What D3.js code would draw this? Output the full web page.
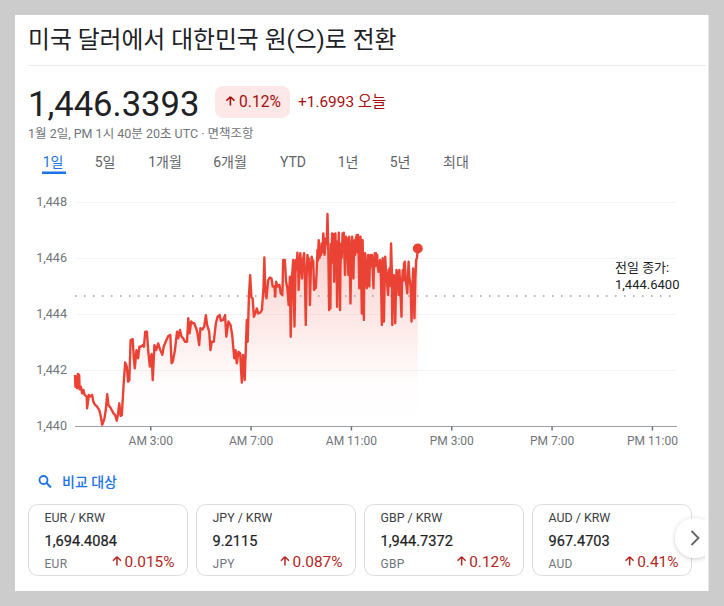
<!DOCTYPE html>
<html>
<head>
<meta charset="utf-8">
<script src="https://cdnjs.cloudflare.com/ajax/libs/d3/7.8.5/d3.min.js"></script>
<style>
  body { margin: 0; background: #cccccc; }
  svg { display: block; }
  text { font-family: Roboto, "Noto Sans CJK KR", sans-serif; }
</style>
</head>
<body>
<svg id="chart" width="724" height="606"></svg>
<script>
// minutes since midnight UTC
var minutes = [0,1,3,5,7,10,11,14,17,20,23,28,29,33,36,41,44,48,52,58,61,65,68,71,74,77,80,84,88,92,96,100,103,106,109,112,116,120,124,127,130,133,138,141,143,147,151,154,157,162,165,168,172,175,179,183,186,190,194,199,
  204,209,212,217,223,228,231,234,239,244,247,251,255,259,263,268,271,274,278,281,285,290,293,297,300,305,309,313,316,321,324,327,332,337,341,346,349,354,359,362,367,372,376,381,384,387,391,395,399,402,406,409,411,413,416,419,422,425,428,431,435,438,443,447,451,453,455,458,462,466,470,473,477,479,481,485,489,492,496,498,502,505,508,511,514,516,519,522,525,
  528,530,532,534,535,537,539,541,543,545,548,550,552,554,556,558,559,561,562,564,566,568,570,572,574,576,578,580,581,583,585,586,588,590,592,594,596,597,599,600,602,604,
  606,608,609,611,612,613,615,616,618,620,621,623,624,625,627,628,629,631,632,634,635,637,638,640,641,643,644,646,648,649,651,652,654,656,657,659,661,663,664,666,667,669,670,672,674,675,677,678,680,681,683,684,686,687,688,689,691,692,694,695,698,699,701,702,704,705,707,709,710,712,714,715,717,718,720,721,723,724,726,728,730,732,734,735,736,738,739,741,742,744,745,747,749,750,752,754,756,758,759,761,763,765,766,768,769,771,772,774,775,776,778,781,782,784,786,787,789,791,793,795,796,798,800,801,803,805,807,809,810,812,814,816,818,820];
var rates = [1441.82,1441.40,1441.76,1441.35,1441.86,1441.82,1441.31,1441.40,1441.17,1441.29,1441.11,1441.05,1440.63,1441.11,1441.05,1441.11,1440.87,1440.75,1440.71,1440.57,1440.39,1440.04,1440.15,1440.31,1440.63,1441.14,1440.75,1440.67,1440.57,1440.45,1440.39,1440.19,1440.45,1440.81,1440.36,1440.39,1441.40,1442.27,1442.12,1441.58,1441.64,1443.07,1443.10,1442.36,1442.06,1442.71,1442.42,1442.83,1442.83,1442.89,1442.83,1443.37,1443.37,1442.71,1442.12,1442.57,1441.64,1442.89,1442.71,1442.95,
  1442.71,1442.54,1442.83,1443.01,1443.21,1443.25,1442.24,1442.30,1442.71,1443.37,1443.13,1443.43,1443.19,1443.13,1443.01,1443.01,1443.85,1443.31,1443.73,1443.67,1443.67,1443.49,1443.31,1442.89,1443.49,1443.45,1443.55,1443.96,1443.61,1443.37,1442.71,1443.01,1443.01,1443.67,1443.90,1443.96,1443.76,1443.79,1443.96,1443.19,1443.73,1443.61,1443.25,1442.42,1442.71,1442.24,1442.65,1442.60,1441.55,1442.54,1441.64,1442.95,1443.79,1443.01,1444.62,1445.39,1444.60,1444.56,1443.90,1444.02,1444.20,1444.02,1444.05,1444.14,1444.98,1446.02,1444.86,1444.56,1445.21,1445.30,1445.27,1444.98,1444.98,1444.62,1445.15,1444.98,1445.04,1444.74,1444.68,1445.93,1445.93,1445.15,1444.92,1444.32,1445.33,1443.19,1445.33,1445.93,1443.55,
  1445.93,1445.60,1446.19,1445.60,1444.86,1445.70,1446.17,1445.70,1445.27,1445.90,1446.17,1445.30,1443.61,1445.30,1446.11,1445.80,1445.99,1445.30,1444.32,1445.50,1446.05,1445.90,1445.90,1444.86,1445.00,1444.92,1445.50,1446.29,1445.90,1446.64,1446.00,1446.29,1446.10,1446.52,1446.20,1446.88,1446.30,1446.11,1446.50,1446.70,1446.50,1447.57,
  1446.20,1444.14,1445.40,1444.20,1446.50,1445.80,1446.88,1445.90,1446.85,1445.15,1446.40,1446.88,1445.80,1446.60,1444.26,1446.00,1445.60,1446.90,1445.90,1444.14,1445.70,1446.52,1446.00,1446.88,1446.20,1446.90,1446.30,1445.39,1446.76,1446.10,1446.70,1446.20,1445.39,1446.76,1446.00,1444.38,1446.30,1446.76,1446.00,1445.27,1446.00,1446.64,1446.10,1446.70,1446.82,1446.20,1446.82,1446.50,1444.92,1446.20,1446.76,1446.00,1444.02,1446.30,1446.64,1445.90,1443.79,1445.60,1446.17,1445.70,1444.92,1445.60,1446.11,1445.60,1444.98,1445.70,1446.11,1445.70,1446.11,1445.60,1444.92,1445.80,1446.17,1445.70,1446.17,1445.80,1446.11,1445.70,1445.51,1445.80,1445.93,1445.20,1443.61,1445.20,1445.99,1445.20,1443.73,1445.40,1446.05,1445.50,1445.57,1445.00,1444.68,1445.20,1445.63,1445.00,1446.52,1445.50,1443.61,1444.90,1445.39,1444.90,1443.67,1445.00,1445.57,1445.00,1445.50,1444.68,1445.20,1445.57,1445.00,1443.90,1445.00,1445.57,1445.20,1445.80,1445.87,1445.20,1445.00,1444.74,1445.20,1445.87,1445.30,1445.21,1444.90,1443.73,1444.90,1445.63,1444.90,1443.85,1445.20,1445.93,1446.00,1446.34];
var previousClose = 1444.64;
var yTicks = [1440, 1442, 1444, 1446, 1448];
var xTicks = [180, 420, 660, 900, 1140, 1380];
var xTickLabels = ['AM 3:00', 'AM 7:00', 'AM 11:00', 'PM 3:00', 'PM 7:00', 'PM 11:00'];
var tabs = ['1일', '5일', '1개월', '6개월', 'YTD', '1년', '5년', '최대'];
var tabCenters = [53, 105, 165, 230, 293, 348, 400, 456];
var cardPairs = ['EUR / KRW', 'JPY / KRW', 'GBP / KRW', 'AUD / KRW'];
var cardValues = ['1,694.4084', '9.2115', '1,944.7372', '967.4703'];
var cardCodes = ['EUR', 'JPY', 'GBP', 'AUD'];
var cardChanges = ['0.015%', '0.087%', '0.12%', '0.41%'];

(function () {

var RED = '#ea4335', DARKRED = '#a50e0e', GREY = '#70757a';
var ARROW = 'M-0.6 -5.2 L-0.6 3.6 M-0.6 -5.2 L-4.6 -1.2 M-0.6 -5.2 L3.4 -1.2';
var points = minutes.map(function (m, i) { return {m: m, v: rates[i]}; });

var svg = d3.select('#chart');

var defs = svg.append('defs');
var grad = defs.append('linearGradient').attr('id', 'fade')
  .attr('x1', 0).attr('x2', 0).attr('y1', 0).attr('y2', 1);
grad.append('stop').attr('offset', '0%').attr('stop-color', RED).attr('stop-opacity', 0.3);
grad.append('stop').attr('offset', '80%').attr('stop-color', RED).attr('stop-opacity', 0.012);
grad.append('stop').attr('offset', '100%').attr('stop-color', RED).attr('stop-opacity', 0);
defs.append('clipPath').attr('id', 'cardclip').append('rect')
  .attr('x', 15).attr('y', 15).attr('width', 690).attr('height', 576);
var shadow = defs.append('filter').attr('id', 'shadow')
  .attr('x', '-30%').attr('y', '-30%').attr('width', '160%').attr('height', '160%');
shadow.append('feDropShadow').attr('dx', 0).attr('dy', 1).attr('stdDeviation', 2)
  .attr('flood-color', '#3c4043').attr('flood-opacity', 0.28);

// page card
svg.append('rect').attr('x', 15).attr('y', 15).attr('width', 693.5).attr('height', 576).attr('fill', '#fff');

// header
svg.append('text').attr('x', 28).attr('y', 48).attr('font-size', 23.8).attr('fill', '#202124')
  .text('미국 달러에서 대한민국 원(으)로 전환');
svg.append('line').attr('x1', 28).attr('x2', 706).attr('y1', 65.5).attr('y2', 65.5).attr('stroke', '#e8eaed');
svg.append('text').attr('x', 28).attr('y', 116).attr('font-size', 34.6).attr('fill', '#202124')
  .text('1,446.3393');
svg.append('rect').attr('x', 215).attr('y', 86).attr('width', 75).attr('height', 32).attr('rx', 8)
  .attr('fill', '#fce8e6');
svg.append('path').attr('d', ARROW).attr('transform', 'translate(231,102)')
  .attr('fill', 'none').attr('stroke', DARKRED).attr('stroke-width', 1.6);
svg.append('text').attr('x', 239).attr('y', 107).attr('font-size', 15.6)
  .attr('fill', DARKRED).text('0.12%');
svg.append('text').attr('x', 298).attr('y', 107).attr('font-size', 15.4)
  .attr('fill', DARKRED).text('+1.6993 오늘');
svg.append('text').attr('x', 28).attr('y', 138).attr('font-size', 12.5).attr('fill', GREY)
  .text('1월 2일, PM 1시 40분 20초 UTC · 면책조항');

// range tabs
svg.selectAll('.tab').data(tabs).enter().append('text')
  .attr('class', 'tab')
  .attr('x', function (d, i) { return tabCenters[i]; })
  .attr('y', 167).attr('text-anchor', 'middle').attr('font-size', 14)
  .attr('fill', function (d, i) { return i === 0 ? '#1a73e8' : '#5f6368'; })
  .text(function (d) { return d; });
svg.append('rect').attr('x', 42).attr('y', 171.5).attr('width', 24).attr('height', 2.5).attr('fill', '#1a73e8');

// chart
var x = d3.scaleLinear().domain([0, 1440]).range([75, 677]);
var y = d3.scaleLinear().domain([1440, 1448]).range([426, 202]);

var yAxis = d3.axisLeft(y).tickValues(yTicks).tickSize(-601).tickPadding(8).tickFormat(d3.format(','));
var yg = svg.append('g').attr('transform', 'translate(75,0)').call(yAxis);
yg.select('.domain').remove();
yg.selectAll('line').attr('stroke', '#f1f3f4');
yg.selectAll('text').attr('font-size', 12.6).attr('fill', GREY).attr('dy', '0.25em').style('font-family', 'Roboto');

var area = d3.area().x(function (d) { return x(d.m); }).y0(y(1440)).y1(function (d) { return y(d.v); });
var line = d3.line().x(function (d) { return x(d.m); }).y(function (d) { return y(d.v); });

svg.append('path').datum(points).attr('d', area).attr('fill', 'url(#fade)');

svg.append('line').attr('x1', x(0)).attr('x2', 672)
  .attr('y1', y(previousClose)).attr('y2', y(previousClose))
  .attr('stroke', '#9aa0a6').attr('stroke-width', 1.5).attr('stroke-dasharray', '1.5 7.5');

var xAxis = d3.axisBottom(x).tickValues(xTicks).tickSize(4).tickPadding(6)
  .tickFormat(function (d, i) { return xTickLabels[i]; });
var xg = svg.append('g').attr('transform', 'translate(0,426.5)').call(xAxis);
xg.select('.domain').attr('stroke', '#9aa0a6').attr('d', 'M75,0H677');
xg.selectAll('line').attr('stroke', GREY).attr('stroke-width', 1.5);
xg.selectAll('text').attr('font-size', 12).attr('fill', GREY).style('font-family', 'Roboto');

svg.append('path').datum(points).attr('d', line).attr('fill', 'none')
  .attr('stroke', RED).attr('stroke-width', 2.4).attr('stroke-linejoin', 'round');
svg.append('circle').attr('cx', x(minutes[minutes.length - 1])).attr('cy', y(rates[rates.length - 1]))
  .attr('r', 5).attr('fill', RED);

svg.append('text').attr('x', 615).attr('y', 272).attr('font-size', 13).attr('fill', '#202124').text('전일 종가:');
svg.append('text').attr('x', 615).attr('y', 289).attr('font-size', 13).attr('fill', '#202124')
  .text(d3.format(',.4f')(previousClose));

// compare link
svg.append('circle').attr('cx', 43.5).attr('cy', 480).attr('r', 4).attr('fill', 'none')
  .attr('stroke', '#1a73e8').attr('stroke-width', 1.8);
svg.append('line').attr('x1', 46.5).attr('y1', 483).attr('x2', 51).attr('y2', 487.5)
  .attr('stroke', '#1a73e8').attr('stroke-width', 2);
svg.append('text').attr('x', 62).attr('y', 487).attr('font-size', 14).attr('font-weight', 500)
  .attr('fill', '#1a73e8').text('비교 대상');

// compare cards
var card = svg.selectAll('.fx').data(cardPairs).enter().append('g')
  .attr('class', 'fx')
  .attr('transform', function (d, i) { return 'translate(' + (28.5 + i * 168) + ',504.5)'; });
card.append('rect').attr('width', 159).attr('height', 71).attr('rx', 9)
  .attr('fill', '#fff').attr('stroke', '#dadce0');
card.append('text').attr('x', 16).attr('y', 17.5).attr('font-size', 12.4).attr('fill', '#3c4043')
  .text(function (d) { return d; });
card.append('text').attr('x', 16).attr('y', 41.5).attr('font-size', 14.6)
  .attr('stroke', '#202124').attr('stroke-width', 0.2)
  .attr('fill', '#202124').text(function (d, i) { return cardValues[i]; });
card.append('text').attr('x', 16).attr('y', 63).attr('font-size', 12).attr('fill', GREY)
  .attr('letter-spacing', 0.3).text(function (d, i) { return cardCodes[i]; });
card.append('text').attr('x', 146).attr('y', 62.5).attr('text-anchor', 'end').attr('font-size', 15.4)
  .attr('fill', '#b3261e').attr('class', 'chg').text(function (d, i) { return cardChanges[i]; });
card.each(function () {
  var g = d3.select(this);
  var w = g.select('.chg').node().getComputedTextLength();
  g.append('path').attr('d', ARROW).attr('transform', 'translate(' + (146 - w - 7) + ',57.5)')
    .attr('fill', 'none').attr('stroke', '#b3261e').attr('stroke-width', 1.5);
});

// next button
var next = svg.append('g').attr('clip-path', 'url(#cardclip)');
next.append('circle').attr('cx', 695).attr('cy', 538).attr('r', 20).attr('fill', '#fff')
  .attr('filter', 'url(#shadow)');
next.append('path').attr('d', 'M691.5 531 L698.5 538 L691.5 545').attr('fill', 'none')
  .attr('stroke', '#5f6368').attr('stroke-width', 1.8);

})();
</script>
</body>
</html>
